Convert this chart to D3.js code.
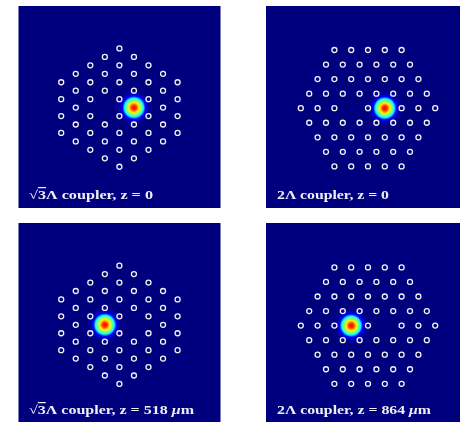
<!DOCTYPE html>
<html>
<head>
<meta charset="utf-8">
<script src="https://cdn.jsdelivr.net/npm/d3@7"></script>
<style>
html, body { margin: 0; padding: 0; background: #fff; overflow: hidden; }
svg { display: block; }
text { font-family: "Liberation Serif", serif; font-weight: bold; fill: #eeeef4; }
</style>
</head>
<body>
<div id="chart"></div>
<script>
// hole rows in units of the pitch, keyed by lattice line
const sqrt3Columns = [-4, -3, -2, -1, 0, 1, 2, 3, 4];
const sqrt3Rows = [
    [-1.5, -0.5, 0.5, 1.5],
    [-2, -1, 0, 1, 2],
    [-2.5, -1.5, -0.5, 0.5, 1.5, 2.5],
    [-3, -2, -1, 1, 2, 3],
    [-3.5, -2.5, -1.5, -0.5, 0.5, 1.5, 2.5, 3.5],
    [-3, -2, -1, 1, 2, 3],
    [-2.5, -1.5, -0.5, 0.5, 1.5, 2.5],
    [-2, -1, 0, 1, 2],
    [-1.5, -0.5, 0.5, 1.5]
];
const twoRows = [-4, -3, -2, -1, 0, 1, 2, 3, 4];
const twoColumns = [
    [-2, -1, 0, 1, 2],
    [-2.5, -1.5, -0.5, 0.5, 1.5, 2.5],
    [-3, -2, -1, 0, 1, 2, 3],
    [-3.5, -2.5, -1.5, -0.5, 0.5, 1.5, 2.5, 3.5],
    [-4, -3, -2, 0, 2, 3, 4],
    [-3.5, -2.5, -1.5, -0.5, 0.5, 1.5, 2.5, 3.5],
    [-3, -2, -1, 0, 1, 2, 3],
    [-2.5, -1.5, -0.5, 0.5, 1.5, 2.5],
    [-2, -1, 0, 1, 2]
];

// radial profile of the guided mode, px vs colour level
const spotRadius = [0, 2.5, 5, 7.5, 9.5, 11.5, 15, 19];
const spotLevel = [0.88, 0.82, 0.64, 0.5, 0.37, 0.125, 0.025, 0];

const labels = ["coupler, z = 0", "coupler, z = 0", "coupler, z = 518 ", "coupler, z = 864 "];

const width = 460, height = 422;

const jet = d3.scaleLinear()
    .domain([0, 0.125, 0.375, 0.625, 0.875, 1])
    .range(["#00007f", "#0000ff", "#00ffff", "#ffff00", "#ff0000", "#7f0000"]);

const svg = d3.select("#chart").append("svg")
    .attr("width", width)
    .attr("height", height);

const defs = svg.append("defs");

defs.append("filter")
    .attr("id", "soft")
    .attr("x", "-5%").attr("y", "-5%").attr("width", "110%").attr("height", "110%")
    .append("feGaussianBlur")
    .attr("stdDeviation", 0.65);

let grad = defs.append("radialGradient").attr("id", "mode");
grad.selectAll("stop")
    .data(spotRadius)
    .enter()
    .append("stop")
    .attr("offset", function(d) { return d / d3.max(spotRadius); })
    .attr("stop-color", function(d, i) { return jet(spotLevel[i]); });

const panels = [
    {type: "sqrt3", x0: 18.5, y0: 6, w: 202, h: 202, cx: 119.4, cy: 107.6, spot: 1, tx: 29, ty: 199, tl: 124},
    {type: "two", x0: 266, y0: 6, w: 196, h: 202, cx: 368, cy: 108.2, spot: 1, tx: 277, ty: 199, tl: 112},
    {type: "sqrt3", x0: 18.5, y0: 223, w: 202, h: 201, cx: 119.4, cy: 324.8, spot: -1, tx: 29, ty: 414, tl: 165},
    {type: "two", x0: 266, y0: 223, w: 196, h: 201, cx: 368, cy: 325.6, spot: -1, tx: 277, ty: 414, tl: 154}
];

const root = svg.append("g").attr("filter", "url(#soft)");

panels.forEach(function(p, n) {
    const g = root.append("g");

    g.append("rect")
        .attr("x", p.x0).attr("y", p.y0)
        .attr("width", p.w).attr("height", p.h)
        .attr("fill", jet(0));

    // lattice scales, one step of each is the pitch along that axis
    let holes = [], x, y;
    if (p.type == "sqrt3") {
        x = d3.scaleLinear().domain([-1, 1]).range([p.cx - 14.55, p.cx + 14.55]);
        y = d3.scaleLinear().domain([-1, 1]).range([p.cy - 16.9, p.cy + 16.9]);
        sqrt3Columns.forEach(function(c, i) {
            sqrt3Rows[i].forEach(function(r) { holes.push([c, r]); });
        });
    } else {
        x = d3.scaleLinear().domain([-1, 1]).range([p.cx - 16.8, p.cx + 16.8]);
        y = d3.scaleLinear().domain([-1, 1]).range([p.cy - 14.55, p.cy + 14.55]);
        twoRows.forEach(function(r, i) {
            twoColumns[i].forEach(function(c) { holes.push([c, r]); });
        });
    }

    g.append("circle")
        .attr("cx", x(p.spot))
        .attr("cy", y(0))
        .attr("r", d3.max(spotRadius))
        .attr("fill", "url(#mode)");

    g.selectAll(".hole")
        .data(holes)
        .enter()
        .append("circle")
        .attr("class", "hole")
        .attr("cx", function(d) { return x(d[0]); })
        .attr("cy", function(d) { return y(d[1]); })
        .attr("r", 2.5)
        .attr("fill", "none")
        .attr("stroke", "#f4f4f4")
        .attr("stroke-width", 1.3);

    let t = g.append("text")
        .attr("x", p.tx)
        .attr("y", p.ty)
        .attr("font-size", 12)
        .attr("textLength", p.tl)
        .attr("lengthAdjust", "spacingAndGlyphs");

    if (p.type == "sqrt3") {
        t.append("tspan").text("√");
        t.append("tspan").attr("text-decoration", "overline").text("3");
        t.append("tspan").text("Λ " + labels[n]);
    } else {
        t.append("tspan").text("2Λ " + labels[n]);
    }
    if (n >= 2) {
        t.append("tspan").attr("font-style", "italic").text("μ");
        t.append("tspan").text("m");
    }
});
</script>
</body>
</html>
